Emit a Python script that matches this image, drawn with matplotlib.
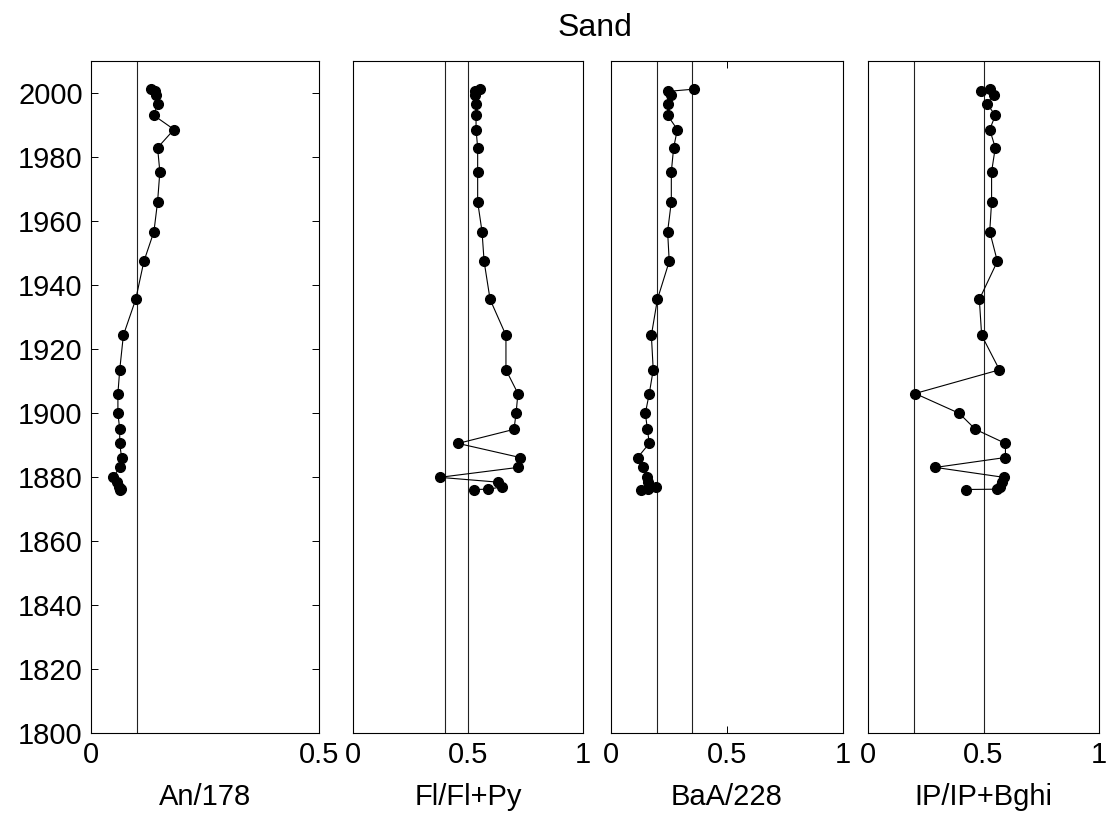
import numpy as np
import matplotlib
matplotlib.use("Agg")
import matplotlib.pyplot as plt

plt.rcParams['font.family'] = ['Liberation Sans', 'DejaVu Sans']

# ==========================================================
# 1. DATA
# ==========================================================
years = [2001.1, 2000.4, 1999.3, 1996.6, 1992.9, 1988.5, 1982.8, 1975.3,
         1965.9, 1956.6, 1947.3, 1935.4, 1924.2, 1913.4, 1906.0, 1899.8,
         1894.8, 1890.4, 1886.0, 1882.9, 1879.8, 1878.3, 1876.8, 1876.1, 1876.0]

an_178 = [0.132, 0.141, 0.143, 0.146, 0.138, 0.182, 0.146, 0.151,
          0.146, 0.138, 0.116, 0.098, 0.071, 0.063, 0.059, 0.059,
          0.063, 0.063, 0.067, 0.063, 0.048, 0.057, 0.062, 0.065, 0.063]

fl_flpy = [0.554, 0.532, 0.532, 0.535, 0.535, 0.535, 0.542, 0.542,
           0.542, 0.561, 0.570, 0.596, 0.665, 0.665, 0.717, 0.709,
           0.700, 0.457, 0.726, 0.717, 0.377, 0.630, 0.648, 0.587, 0.524]

baa_228 = [0.356, 0.244, 0.259, 0.244, 0.244, 0.286, 0.270, 0.260,
           0.260, 0.244, 0.251, 0.200, 0.174, 0.182, 0.165, 0.148,
           0.157, 0.165, 0.115, 0.139, 0.157, 0.161, 0.194, 0.158, 0.128]

ip_ipbghi = [0.528, 0.491, 0.544, 0.515, 0.551, 0.527, 0.551, 0.535,
             0.535, 0.527, 0.560, 0.482, 0.492, 0.569, 0.204, 0.395,
             0.465, 0.595, 0.595, 0.292, 0.588, 0.582, 0.572, 0.559, 0.423]

panel_labels = ["An/178", "Fl/Fl+Py", "BaA/228", "IP/IP+Bghi"]
panel_xmax = [0.5, 1, 1, 1]
panel_xticks = [[0, 0.5], [0, 0.5, 1], [0, 0.5, 1], [0, 0.5, 1]]
panel_xticklabels = [["0", "0.5"], ["0", "0.5", "1"], ["0", "0.5", "1"], ["0", "0.5", "1"]]
thresholds = [[0.1], [0.4, 0.5], [0.2, 0.35], [0.2, 0.5]]
year_ticks = list(range(1800, 2001, 20))

# ==========================================================
# 2. LAYOUT (axes boxes in figure fractions)
# ==========================================================
W, H = 1111, 817
lefts = [91, 353, 611, 868]
widths = [228, 230, 232, 231]
bottom = (H - 732.7) / H
height = 672.0 / H

fig = plt.figure(figsize=(W / 100, H / 100), dpi=100)

series = [an_178, fl_flpy, baa_228, ip_ipbghi]
for i, vals in enumerate(series):
    ax = fig.add_axes([lefts[i] / W, bottom, widths[i] / W, height])
    for t in thresholds[i]:
        ax.axvline(t, color='#222222', linewidth=0.8)
    ax.plot(vals, years, '-', color='black', linewidth=0.8,
            marker='o', markersize=7, markerfacecolor='black', markeredgecolor='black')
    ax.set_xlim(0, panel_xmax[i])
    ax.set_ylim(1800, 2010)
    ax.set_xticks(panel_xticks[i])
    ax.set_xticklabels(panel_xticklabels[i])
    ax.set_xlabel(panel_labels[i], fontsize=21, labelpad=10)
    ax.tick_params(axis='both', direction='in', length=5, width=0.7,
                   labelsize=21, top=True, right=True, pad=6)
    if i == 0:
        ax.set_yticks(year_ticks)
    else:
        ax.set_yticks([])
    for sp in ax.spines.values():
        sp.set_linewidth(0.8)

# ==========================================================
# 3. TITLE
# ==========================================================
fig.text((91 + 1099) / 2 / W, 1 - 28 / H, "Sand", fontsize=23,
         ha='center', va='center')

fig.savefig("out.png", dpi=100)
